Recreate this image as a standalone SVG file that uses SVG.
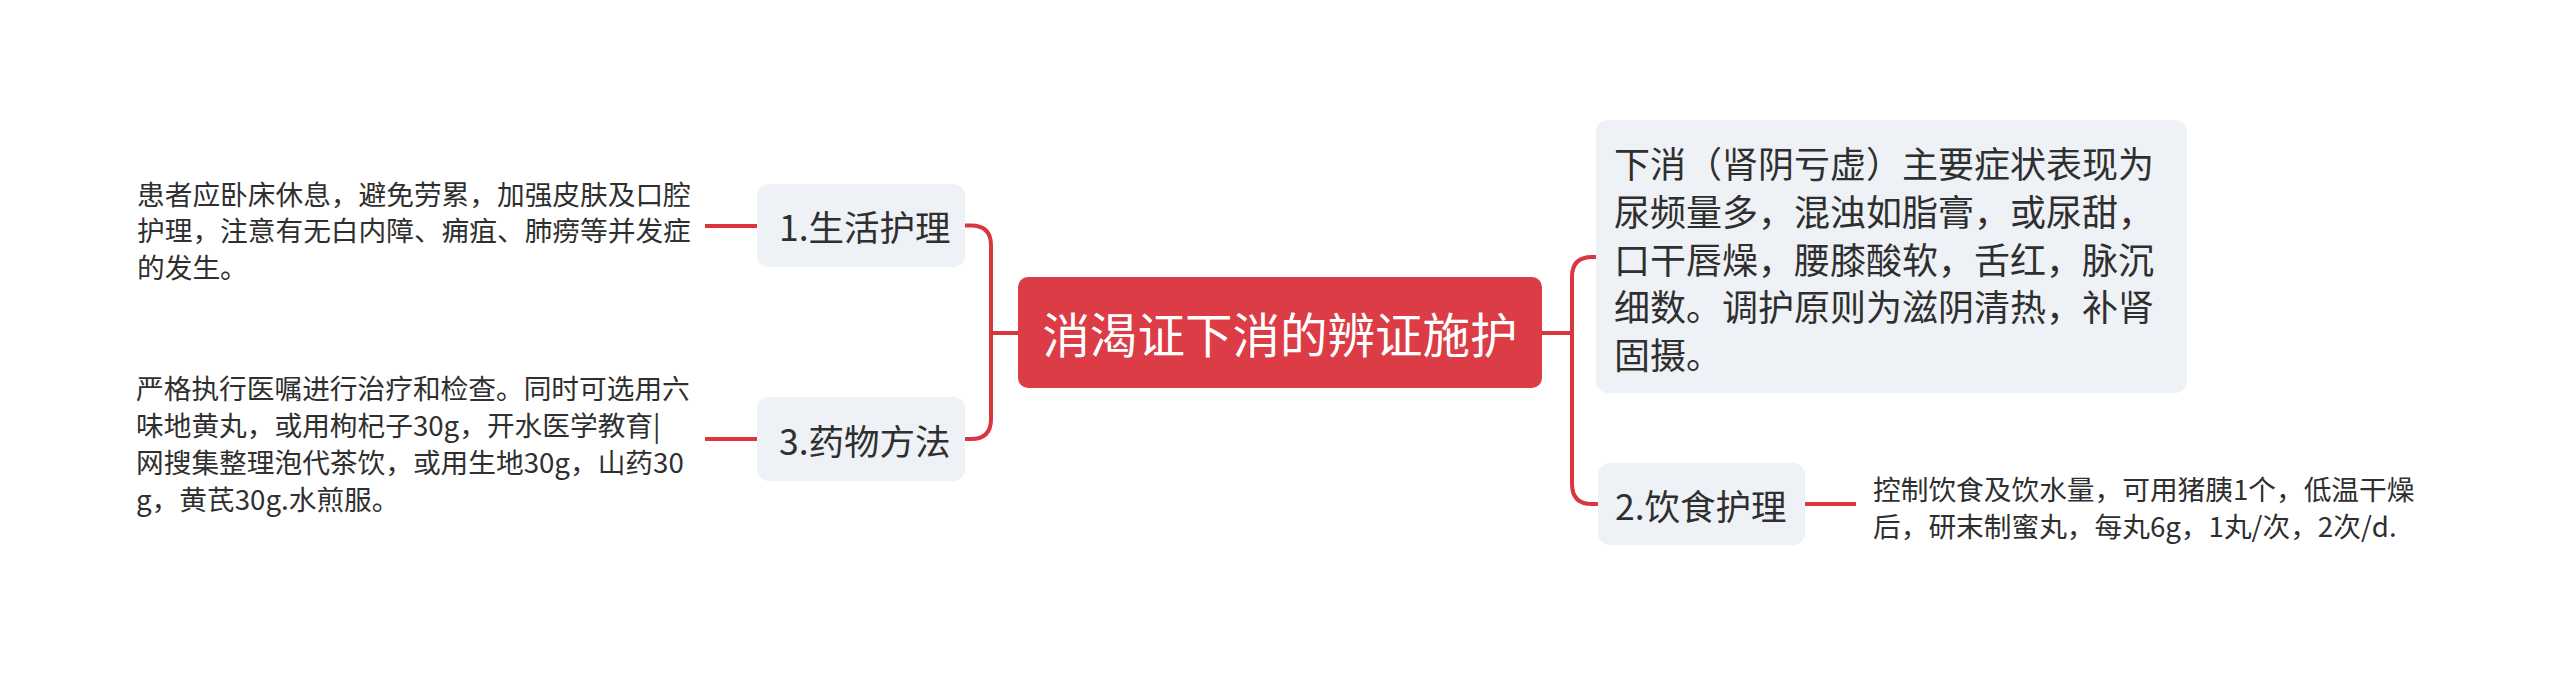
<svg xmlns="http://www.w3.org/2000/svg" width="2560" height="673" viewBox="0 0 2560 673">
<style>
.bg{fill:#ffffff}
.conn{fill:none;stroke:#D9363F;stroke-width:4;stroke-linecap:butt}
.topic{fill:#EEF1F5}
.root{fill:#DB3C45}
text{font-family:"Noto Sans CJK SC","Microsoft YaHei",sans-serif;dominant-baseline:central}
.rt{fill:#ffffff;font-size:47.5px}
.tt{fill:#2f2f2f;font-size:35.5px}
.bt{fill:#2f2f2f;font-size:36px}
.dt{fill:#2f2f2f;font-size:27.7px}
</style>
<rect class="bg" x="0" y="0" width="2560" height="673"/>
<g id="connectors">
<path class="conn" d="M1018 333 H991"/>
<path class="conn" d="M965 225.5 H971 Q991 225.5 991 245.5 V419 Q991 439 971 439 H965"/>
<path class="conn" d="M1542 333 H1572"/>
<path class="conn" d="M1596 257 H1592 Q1572 257 1572 277 V484 Q1572 504 1592 504 H1598"/>
<path class="conn" d="M757 226 H705"/>
<path class="conn" d="M757 439 H705"/>
<path class="conn" d="M1805 504 H1856"/>
</g>
<g id="root">
<rect class="root" x="1018" y="277" width="524" height="111" rx="10"/>
<text class="rt" x="1280" y="332.5" text-anchor="middle">消渴证下消的辨证施护</text>
</g>
<g id="node1">
<rect class="topic" x="757" y="184" width="208" height="83" rx="12"/>
<text class="tt" x="779" y="225.5">1.生活护理</text>
</g>
<g id="node1-detail">
<text class="dt" x="137"><tspan x="137" y="192.5">患者应卧床休息，避免劳累，加强皮肤及口腔</tspan><tspan x="137" y="229">护理，注意有无白内障、痈疽、肺痨等并发症</tspan><tspan x="137" y="265.5">的发生。</tspan></text>
</g>
<g id="node3">
<rect class="topic" x="757" y="397" width="208" height="84" rx="12"/>
<text class="tt" x="779" y="439">3.药物方法</text>
</g>
<g id="node3-detail">
<text class="dt" x="136"><tspan x="136" y="387">严格执行医嘱进行治疗和检查。同时可选用六</tspan><tspan x="136" y="424">味地黄丸，或用枸杞子30g，开水医学教育|</tspan><tspan x="136" y="461">网搜集整理泡代茶饮，或用生地30g，山药30</tspan><tspan x="136" y="498">g，黄芪30g.水煎服。</tspan></text>
</g>
<g id="node-xiaxiao">
<rect class="topic" x="1596" y="120" width="591" height="273" rx="12"/>
<text class="bt" x="1614"><tspan x="1614" y="162">下消（肾阴亏虚）主要症状表现为</tspan><tspan x="1614" y="210">尿频量多，混浊如脂膏，或尿甜，</tspan><tspan x="1614" y="258">口干唇燥，腰膝酸软，舌红，脉沉</tspan><tspan x="1614" y="305">细数。调护原则为滋阴清热，补肾</tspan><tspan x="1614" y="353">固摄。</tspan></text>
</g>
<g id="node2">
<rect class="topic" x="1598" y="463" width="207" height="82" rx="12"/>
<text class="tt" x="1615" y="504">2.饮食护理</text>
</g>
<g id="node2-detail">
<text class="dt" x="1873"><tspan x="1873" y="488">控制饮食及饮水量，可用猪胰1个，低温干燥</tspan><tspan x="1873" y="525">后，研末制蜜丸，每丸6g，1丸/次，2次/d.</tspan></text>
</g>
</svg>
